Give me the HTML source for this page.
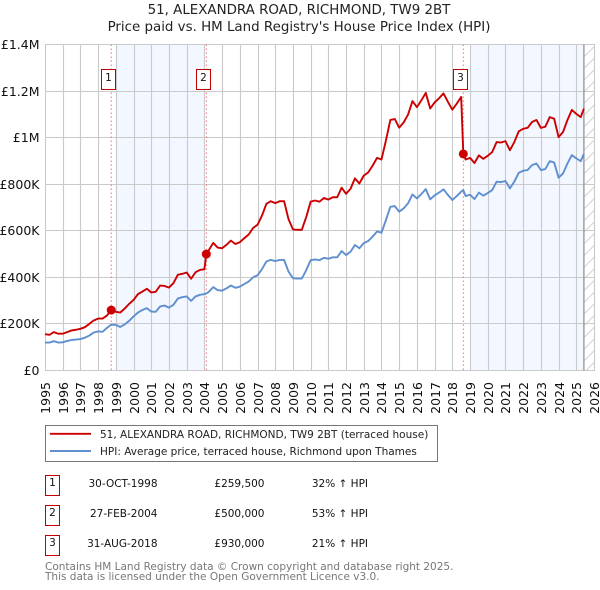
<!DOCTYPE html>
<html lang="en">
<head>
<meta charset="utf-8">
<title>51, Alexandra Road price chart</title>
<style>
html,body{margin:0;padding:0;background:#fff;}
svg{display:block;font-family:"DejaVu Sans",sans-serif;}
</style>
</head>
<body>
<svg id="chart" width="600" height="590" viewBox="0 0 600 590" xmlns="http://www.w3.org/2000/svg">
<defs>
<pattern id="hatch" patternUnits="userSpaceOnUse" width="11.7" height="11.7" x="584.5" y="44.5">
<path d="M0 11.7L11.7 0" stroke="#cfcfcf" stroke-width="1" fill="none"/>
</pattern>
</defs>
<text x="299" y="14" text-anchor="middle" font-size="13.4" fill="#222">51, ALEXANDRA ROAD, RICHMOND, TW9 2BT</text>
<text x="299" y="31" text-anchor="middle" font-size="13.4" fill="#222">Price paid vs. HM Land Registry's House Price Index (HPI)</text>
<g id="plot"></g>

<g>
<rect x="45.5" y="425.5" width="392" height="36" fill="#fff" stroke="#777" stroke-width="1"/>
<line x1="50" x2="91" y1="433.8" y2="433.8" stroke="#cc0000" stroke-width="1.9"/>
<text x="100" y="438" font-size="10.5" fill="#222">51, ALEXANDRA ROAD, RICHMOND, TW9 2BT (terraced house)</text>
<line x1="50" x2="91" y1="451" y2="451" stroke="#5f8fd0" stroke-width="1.9"/>
<text x="100" y="455" font-size="10.5" fill="#222">HPI: Average price, terraced house, Richmond upon Thames</text>
</g>

<g font-size="10.5" fill="#111">
<rect x="45.5" y="475.5" width="14" height="20" fill="#fff" stroke="#c00000"/>
<text x="52.5" y="486" text-anchor="middle">1</text>
<text x="157.5" y="487" text-anchor="end">30-OCT-1998</text>
<text x="264.5" y="487" text-anchor="end">£259,500</text>
<text x="368" y="487" text-anchor="end">32% ↑ HPI</text>
<rect x="45.5" y="505.5" width="14" height="20" fill="#fff" stroke="#c00000"/>
<text x="52.5" y="516" text-anchor="middle">2</text>
<text x="157.5" y="517" text-anchor="end">27-FEB-2004</text>
<text x="264.5" y="517" text-anchor="end">£500,000</text>
<text x="368" y="517" text-anchor="end">53% ↑ HPI</text>
<rect x="45.5" y="535.5" width="14" height="20" fill="#fff" stroke="#c00000"/>
<text x="52.5" y="546" text-anchor="middle">3</text>
<text x="157.5" y="547" text-anchor="end">31-AUG-2018</text>
<text x="264.5" y="547" text-anchor="end">£930,000</text>
<text x="368" y="547" text-anchor="end">21% ↑ HPI</text>
</g>

<text x="45" y="570" font-size="10.5" fill="#777">Contains HM Land Registry data © Crown copyright and database right 2025.</text>
<text x="45" y="580" font-size="10.5" fill="#777">This data is licensed under the Open Government Licence v3.0.</text>
</svg>

<script>
const dates = [
1995,1995.25,1995.5,1995.75,1996,1996.25,1996.5,1996.75,1997,1997.25,1997.5,1997.75,
1998,1998.25,1998.5,1998.74,1999,1999.25,1999.5,1999.75,2000,2000.25,2000.5,2000.75,
2001,2001.25,2001.5,2001.75,2002,2002.25,2002.5,2002.75,2003,2003.25,2003.5,2003.75,
2004,2004.11,2004.25,2004.5,2004.75,2005,2005.25,2005.5,2005.75,2006,2006.25,2006.5,2006.75,
2007,2007.25,2007.5,2007.75,2008,2008.25,2008.5,2008.75,2009,2009.25,2009.5,2009.75,
2010,2010.25,2010.5,2010.75,2011,2011.25,2011.5,2011.75,2012,2012.25,2012.5,2012.75,
2013,2013.25,2013.5,2013.75,2014,2014.25,2014.5,2014.75,2015,2015.25,2015.5,2015.75,
2016,2016.25,2016.5,2016.75,2017,2017.25,2017.5,2017.75,2018,2018.25,2018.5,2018.62,2018.75,
2019,2019.25,2019.5,2019.75,2020,2020.25,2020.5,2020.75,2021,2021.25,2021.5,2021.75,
2022,2022.25,2022.5,2022.75,2023,2023.25,2023.5,2023.75,2024,2024.25,2024.5,2024.75,
2025,2025.25,2025.43
];
const hpiValues = [
120,120,126,120,121,127,131,133,135,141,150,163,
168,166,183,197,196,187,198,213,232,249,260,268,
253,252,275,279,270,282,309,315,318,299,318,325,
328,331,338,358,345,343,353,365,355,360,371,382,400,
409,435,468,475,470,475,475,425,396,395,395,431,
474,477,474,484,480,486,486,513,496,510,539,525,
547,556,575,597,592,646,703,706,682,696,718,756,
739,758,779,735,752,764,778,754,732,749,768,775,749,
755,736,764,751,762,775,811,809,814,782,811,849,
858,861,882,889,861,865,899,893,828,846,889,925,
911,899,930
];
const priceValues = [
156,153,165,158,158,165,172,175,179,186,200,215,
223,223,236,259.5,252,249,266,286,303,328,339,351,
335,338,365,363,356,375,411,415,421,394,422,432,
435,500,517,548,528,525,540,558,543,551,568,584,612,
626,665,716,727,719,727,727,650,606,604,604,659,
725,730,725,741,734,744,744,785,759,780,825,803,
837,851,880,913,906,988,1076,1080,1043,1065,1099,1157,
1131,1160,1192,1125,1151,1169,1190,1154,1120,1146,1175,930,906,
913,891,924,909,922,938,981,979,985,946,981,1027,
1038,1042,1067,1076,1042,1047,1088,1081,1002,1024,1076,1119,
1102,1088,1125
];
const yearTicks = [1995,1996,1997,1998,1999,2000,2001,2002,2003,2004,2005,2006,2007,2008,2009,2010,2011,2012,2013,2014,2015,2016,2017,2018,2019,2020,2021,2022,2023,2024,2025,2026];
const valueTicks = [0,200,400,600,800,1000,1200,1400];
const valueTickLabels = ["£0","£200K","£400K","£600K","£800K","£1M","£1.2M","£1.4M"];
const saleDates = [1998.74,2004.11,2018.62];
const salePrices = [259.5,500,930];
const saleLabels = ["1","2","3"];
const shadedBands = [[1999,2004],[2019,2025.43]];
const dataEnd = 2025.43;

const NS = "http://www.w3.org/2000/svg";
const plot = document.getElementById("plot");
const X0 = 45, PXYEAR = 17.71, Y0 = 370.5, YSPAN = 326, YMAX = 1400;
function xScale(t){ return X0 + (t - 1995) * PXYEAR; }
function yScale(v){ return Y0 - v / YMAX * YSPAN; }
function make(tag, attrs, text){
  const el = document.createElementNS(NS, tag);
  for (const k in attrs) el.setAttribute(k, attrs[k]);
  if (text !== undefined) el.textContent = text;
  plot.appendChild(el);
  return el;
}

shadedBands.forEach(function(b){
  const el = make("rect", {x:xScale(b[0]), y:yScale(YMAX), width:xScale(b[1])-xScale(b[0]), height:YSPAN, fill:"#f3f7ff"});
  
  
});

const hatch = make("rect", {x:xScale(dataEnd), y:yScale(YMAX), width:xScale(2026)-xScale(dataEnd), height:YSPAN, fill:"url(#hatch)"});



yearTicks.forEach(function(y){
  const px = Math.round(xScale(y)) + 0.5;
  const g = make("line", {x1:px, x2:px, y1:yScale(YMAX), y2:yScale(0), stroke:"#cacaca", "stroke-width":1.1});
  
  
  const t = make("text", {transform:"translate(" + (px + 4.5) + ",382) rotate(-90)", "text-anchor":"end", "font-size":12.5, fill:"#111"}, String(y));
  
  
});

valueTicks.forEach(function(v, i){
  const py = Math.floor(yScale(v)) + 0.5;
  const g = make("line", {x1:X0, x2:xScale(2026)+1, y1:py, y2:py, stroke:"#cacaca", "stroke-width":1.1});
  
  
  const t = make("text", {x:39.5, y:py + 4.5, "text-anchor":"end", "font-size":12.5, fill:"#111"}, valueTickLabels[i]);
  
  
});

const endLine = make("line", {x1:xScale(dataEnd), x2:xScale(dataEnd), y1:yScale(YMAX), y2:yScale(0), stroke:"#8a8a8a", "stroke-width":1.2});



saleDates.forEach(function(d){
  const el = make("line", {x1:xScale(d), x2:xScale(d), y1:yScale(YMAX), y2:yScale(0), stroke:"#f07080", "stroke-width":1, "stroke-dasharray":"1.5 2.5"});
  
  
});

function pathOf(values){
  return values.map(function(v, i){
    return (i ? "L" : "M") + xScale(dates[i]).toFixed(2) + " " + yScale(v).toFixed(2);
  }).join("");
}
const hpiLine = make("path", {d:pathOf(hpiValues), fill:"none", stroke:"#5f8fd0", "stroke-width":1.9, "stroke-linejoin":"round"});


const priceLine = make("path", {d:pathOf(priceValues), fill:"none", stroke:"#cc0000", "stroke-width":1.9, "stroke-linejoin":"round"});



saleDates.forEach(function(d, i){
  const c = make("circle", {cx:xScale(d), cy:yScale(salePrices[i]), r:4.5, fill:"#cc0000"});
  
  
  const bx = Math.round(xScale(d) - 10) + 0.5;
  const r = make("rect", {x:bx, y:69.5, width:14, height:20, fill:"#fff", stroke:"#c00000", "stroke-width":1});
  
  
  const t = make("text", {x:bx + 7, y:81, "text-anchor":"middle", "font-size":10.5, fill:"#111"}, saleLabels[i]);
  
  
});
</script>
</body>
</html>
